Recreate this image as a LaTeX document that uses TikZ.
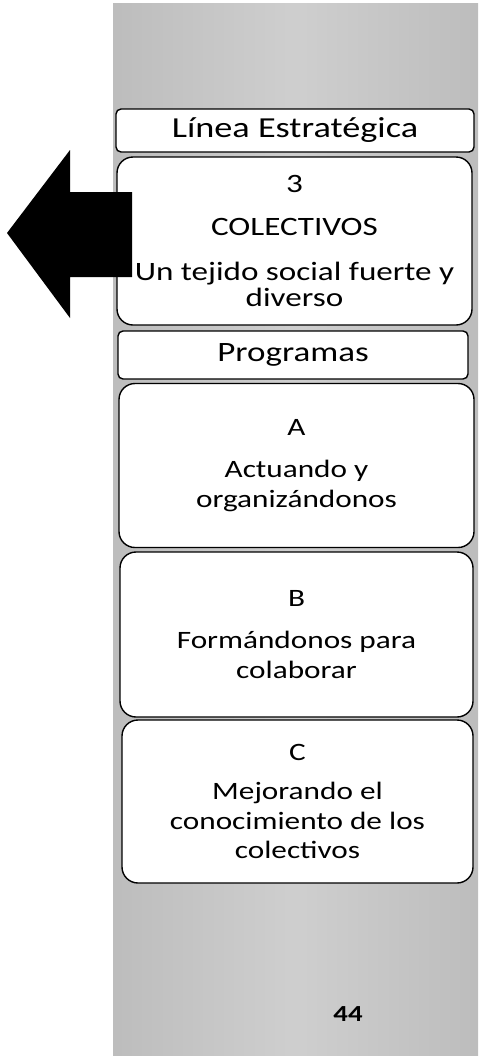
\documentclass[tikz,border=0pt]{standalone}
\usepackage{fontspec}
\setmainfont{Carlito}[FakeStretch=1.25]
\usetikzlibrary{positioning}
\tikzset{
  titlebox/.style={draw=black, fill=white, line width=1.4pt, rounded corners=5pt,
    align=center, inner sep=0pt, font=\fontsize{28}{30}\selectfont},
  progbox/.style={draw=black, fill=white, line width=1.4pt, rounded corners=16pt,
    align=center, inner sep=0pt, font=\fontsize{25}{29.5}\selectfont}
}

\begin{document}
\begin{tikzpicture}[x=1pt, y=-1pt]
    \useasboundingbox (0,0) rectangle (481,1063);
    % fondo gris
    \shade[left color=gray!52, right color=gray!52, middle color=gray!38] (113,3) rectangle (478,1055);

    \node[titlebox, minimum width=358pt, minimum height=43pt, font=\fontsize{29}{30}\selectfont] (linea) at (295,130.5) {Línea Estratégica};
    \node[progbox, minimum width=355pt, minimum height=168pt, font=\fontsize{26.5}{26.5}\selectfont] (colect) at (294.5,241)
      {3\\[17pt] COLECTIVOS\\[18pt] Un tejido social fuerte y\\ diverso};
    \node[titlebox, minimum width=350pt, minimum height=48pt] (programas) at (293,355) {Programas};

    \node[progbox, minimum width=355pt, minimum height=164pt] (progA) at (296.5,465.5)
      {A\\[12.5pt] Actuando y\\ organizándonos};
    \node[progbox, minimum width=353pt, minimum height=165pt] (progB) at (296.5,634.5)
      {B\\[12.5pt] Formándonos para\\ colaborar};
    \node[progbox, minimum width=351pt, minimum height=163pt] (progC) at (297.5,801.5)
      {C\\[10pt] Mejorando el\\ conocimiento de los\\ colectivos};

    % flecha hacia la izquierda
    \fill[black] (7,233) -- (70,150) -- (70,192) -- (132,192) -- (132,277) -- (70,277) -- (70,318) -- cycle;

    \node[font=\bfseries\fontsize{23}{23}\selectfont, inner sep=0pt] (pagina) at (348,1014.5) {44};
\end{tikzpicture}
\end{document}
